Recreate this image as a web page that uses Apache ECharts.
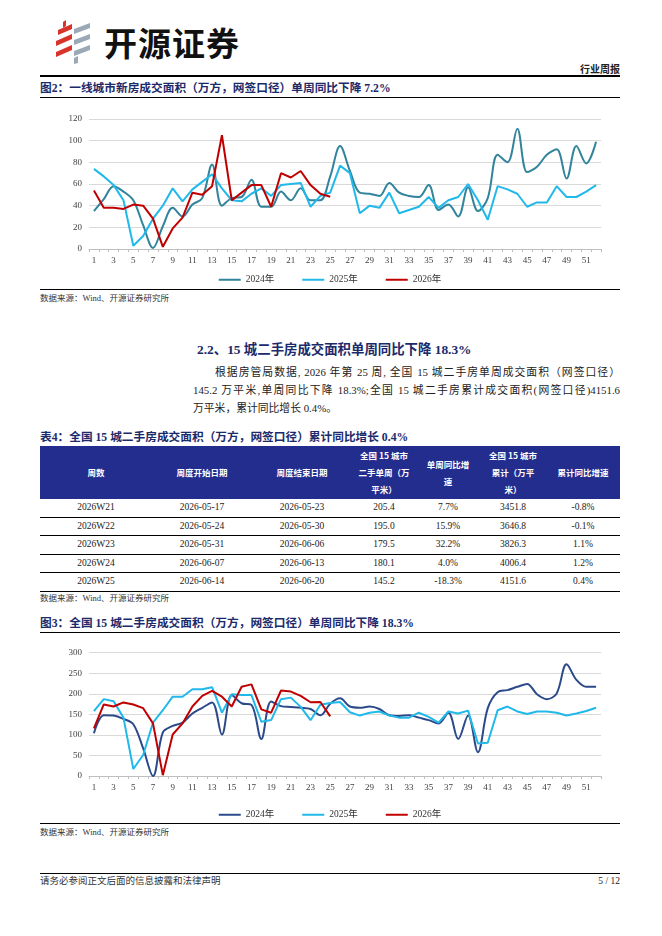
<!DOCTYPE html>
<html><head><meta charset="utf-8">
<script src="https://cdn.jsdelivr.net/npm/echarts@6/dist/echarts.min.js"></script>
<style>
html,body{margin:0;padding:0;background:#fff;}
body{width:662px;height:936px;position:relative;overflow:hidden;font-family:"Liberation Serif","Noto Sans CJK SC",serif;color:#222;}
.abs{position:absolute;}
.rule{position:absolute;left:40px;width:580px;background:#000;}
.ttl{position:absolute;left:40px;font-size:11.7px;font-weight:bold;color:#1b2a6b;line-height:14px;white-space:nowrap;}
.src{position:absolute;left:40px;font-size:8.5px;color:#333;line-height:12px;white-space:nowrap;}
.pl{position:absolute;font-size:10.8px;line-height:17.8px;color:#222;white-space:nowrap;text-align:justify;text-align-last:justify;}
table{border-collapse:collapse;position:absolute;left:40px;top:446px;width:580px;table-layout:fixed;}
th{background:#232d8e;color:#fff;font-size:8.5px;font-weight:bold;line-height:17px;height:53px;padding:0;text-align:center;font-family:"Noto Sans CJK SC","Liberation Serif";}
td{font-size:9.5px;text-align:center;height:17.5px;padding:0;line-height:17.5px;border-bottom:1px solid #000;}
</style></head>
<body>
<svg class="abs" style="left:52px;top:20px" width="42" height="44" viewBox="0 0 42 44">
  <polygon points="6,10 20,4 20,9 6,15" fill="#d9342b"/>
  <polygon points="4,21 20,14 20,19 4,26" fill="#d9342b"/>
  <polygon points="4,32 20,25 20,30 4,37" fill="#d9342b"/>
  <polygon points="11,2 14,0 14,6 11,8" fill="#d9342b"/>
  <polygon points="22,9 38,3 38,8 22,14" fill="#9aa9b5"/>
  <polygon points="22,20 38,14 38,19 22,25" fill="#9aa9b5"/>
  <polygon points="22,31 38,25 38,30 22,36" fill="#9aa9b5"/>
  <polygon points="22,38 26,36 26,43 22,44" fill="#9aa9b5"/>
</svg>
<div class="abs" style="left:104px;top:20px;font-family:'Noto Sans CJK SC';font-weight:bold;font-size:33px;line-height:44px;color:#111;letter-spacing:1px;">开源证券</div>
<div class="abs" style="left:560px;width:60px;text-align:right;top:62px;font-size:10px;font-weight:bold;line-height:14px;font-family:'Noto Sans CJK SC';">行业周报</div>
<div class="rule" style="top:75px;height:1.5px;"></div>

<div class="ttl" style="top:82px;">图2：一线城市新房成交面积（万方，网签口径）单周同比下降 7.2%</div>
<div class="rule" style="top:97px;height:1px;"></div>
<div id="c1" class="abs" style="left:40px;top:99px;width:580px;height:189px;"></div>
<div class="rule" style="top:289px;height:1px;"></div>
<div class="src" style="top:292px;">数据来源：Wind、开源证券研究所</div>

<div class="abs" style="left:197px;top:341px;font-size:13.4px;font-weight:bold;color:#1b2a6b;line-height:18px;white-space:nowrap;">2.2、15 城二手房成交面积单周同比下降 18.3%</div>
<div class="pl" style="left:215px;top:364px;width:405px;">根据房管局数据, 2026 年第 25 周, 全国 15 城二手房单周成交面积（网签口径）</div>
<div class="pl" style="left:193px;top:382px;width:427px;">145.2 万平米,单周同比下降 18.3%;全国 15 城二手房累计成交面积(网签口径)4151.6</div>
<div class="pl" style="left:193px;top:400px;text-align:left;text-align-last:left;">万平米，累计同比增长 0.4%。</div>

<div class="ttl" style="top:431px;">表4：全国 15 城二手房成交面积（万方，网签口径）累计同比增长 0.4%</div>
<table id="tbl">
<colgroup><col style="width:112px"><col style="width:100px"><col style="width:100px"><col style="width:64px"><col style="width:64px"><col style="width:66px"><col style="width:74px"></colgroup>
<thead><tr><th>周数</th><th>周度开始日期</th><th>周度结束日期</th><th>全国 15 城市<br>二手单周（万<br>平米）</th><th>单周同比增<br>速</th><th>全国 15 城市<br>累计（万平<br>米）</th><th>累计同比增速</th></tr></thead>
<tbody id="tb"></tbody>
</table>
<div class="src" style="top:592px;">数据来源：Wind、开源证券研究所</div>

<div class="ttl" style="top:617px;">图3：全国 15 城二手房成交面积（万方，网签口径）单周同比下降 18.3%</div>
<div class="rule" style="top:632px;height:1px;"></div>
<div id="c2" class="abs" style="left:40px;top:634px;width:580px;height:189px;"></div>
<div class="rule" style="top:823px;height:1px;"></div>
<div class="src" style="top:826px;">数据来源：Wind、开源证券研究所</div>

<div class="rule" style="top:873px;height:1px;"></div>
<div class="src" style="top:875px;font-size:9.5px;line-height:13px;">请务必参阅正文后面的信息披露和法律声明</div>
<div class="abs" style="left:560px;width:60px;text-align:right;top:875px;font-size:9.5px;line-height:13px;">5 / 12</div>

<script>
// ---- data ----
const weeks = ["1","2","3","4","5","6","7","8","9","10","11","12","13","14","15","16","17","18","19","20","21","22","23","24","25","26","27","28","29","30","31","32","33","34","35","36","37","38","39","40","41","42","43","44","45","46","47","48","49","50","51","52"];
const seriesNames = ["2024年","2025年","2026年"];
const new2024 = [35,46,58,53,45,22,1,21,38,30,41,47,78,40,47,48,64,39,39,53,45,56,45,45,67,95,72,52,51,49,61,52,49,48,59,36,41,30,57,35,47,87,80,111,71,76,87,92,65,95,79,99];
const new2025 = [74,67,59,45,3,12,28,40,56,44,55,62,69,56,45,44,51,56,49,59,60,61,39,49,52,77,70,33,40,38,52,33,36,39,48,38,45,48,60,45,27,58,55,51,39,43,43,58,48,48,53,59];
const new2026 = [54,38,38,37,41,40,28,2,19,29,52,50,58,105,45,52,59,59,39,70,66,72,59,51,48.3];
const sec2024 = [104,148,147,139,126,67,0,106,122,130,152,166,179,101,197,177,173,90,181,170,168,166,163,148,176,189,169,166,169,163,148,146,148,142,136,128,154,90,147,58,165,204,209,217,224,199,187,201,272,234,217,217];
const sec2025 = [158,187,182,142,17,51,130,160,193,193,211,211,216,154,199,197,197,132,136,187,190.7,168.2,135.8,173.2,177.7,180,155,147,154,157,147,142,142,154,144,130,157,152,159,79,81,160,169,157,151,157,157,154,147,152,158,166];
const sec2026 = [116,174,169,179,174,165,128,2,101,128,169,195,207,193,169,217,223,162,154,208,205.4,195.0,179.5,180.1,145.2];
const yTicks1 = {min:0,max:120,interval:20};
const yTicks2 = {min:0,max:300,interval:50};

const tableWeeks = ["2026W21","2026W22","2026W23","2026W24","2026W25"];
const tableStart = ["2026-05-17","2026-05-24","2026-05-31","2026-06-07","2026-06-14"];
const tableEnd = ["2026-05-23","2026-05-30","2026-06-06","2026-06-13","2026-06-20"];
const tableWeekly = ["205.4","195.0","179.5","180.1","145.2"];
const tableWeeklyYoy = ["7.7%","15.9%","32.2%","4.0%","-18.3%"];
const tableCum = ["3451.8","3646.8","3826.3","4006.4","4151.6"];
const tableCumYoy = ["-0.8%","-0.1%","1.1%","1.2%","0.4%"];

// ---- table ----
const tb = document.getElementById('tb');
tableWeeks.forEach((w,i)=>{
  const tr = document.createElement('tr');
  [w,tableStart[i],tableEnd[i],tableWeekly[i],tableWeeklyYoy[i],tableCum[i],tableCumYoy[i]].forEach(v=>{
    const td=document.createElement('td'); td.textContent=v; tr.appendChild(td);
  });
  tb.appendChild(tr);
});

// ---- charts ----
const FONT = "'Liberation Serif','Noto Sans CJK SC',serif";
function makeOpt(ticks, gridTop, gridBottom, cols, data){
  return {
    animation:false,
    textStyle:{fontFamily:FONT},
    grid:{left:49,right:19,top:gridTop,bottom:gridBottom},
    legend:{
      top: 171, left:'center', itemWidth:22, itemHeight:2, itemGap:28, icon:'rect',
      textStyle:{fontFamily:FONT,fontSize:9.5,color:'#333'},
      data:seriesNames
    },
    xAxis:{
      type:'category', data:weeks, boundaryGap:true,
      axisLine:{lineStyle:{color:'#bfbfbf'}},
      axisTick:{show:true,interval:0,length:3,lineStyle:{color:'#bfbfbf'}},
      axisLabel:{interval:1,fontSize:9,color:'#404040',margin:7,fontFamily:FONT}
    },
    yAxis:{
      type:'value', min:ticks.min, max:ticks.max, interval:ticks.interval,
      axisLine:{show:false}, axisTick:{show:false},
      axisLabel:{fontSize:9,color:'#404040',margin:7,fontFamily:FONT},
      splitLine:{lineStyle:{color:'#d9d9d9',width:1}}
    },
    series:[
      {name:seriesNames[0],type:'line',data:data[0],smooth:0.35,showSymbol:false,symbol:'none',lineStyle:{width:2,color:cols[0]},itemStyle:{color:cols[0]},z:2},
      {name:seriesNames[1],type:'line',data:data[1],smooth:false,showSymbol:false,symbol:'none',lineStyle:{width:2,color:cols[1]},itemStyle:{color:cols[1]},z:3},
      {name:seriesNames[2],type:'line',data:data[2],smooth:false,showSymbol:false,symbol:'none',lineStyle:{width:2,color:cols[2]},itemStyle:{color:cols[2]},z:4}
    ]
  };
}
const c1 = echarts.init(document.getElementById('c1'));
c1.setOption(makeOpt(yTicks1,20,39,['#31849b','#21b8ea','#c00000'],[new2024,new2025,new2026]));
const c2 = echarts.init(document.getElementById('c2'));
c2.setOption(makeOpt(yTicks2,18.7,47,['#2c4a8a','#21b8ea','#c00000'],[sec2024,sec2025,sec2026]));
</script>
</body></html>
